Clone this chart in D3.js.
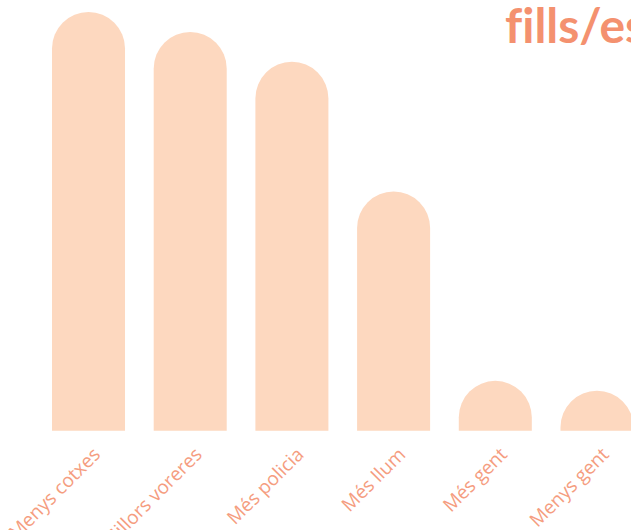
<!DOCTYPE html>
<html>
<head>
<meta charset="utf-8">
<script src="https://cdn.jsdelivr.net/npm/d3@7"></script>
<style>
  html, body { margin: 0; padding: 0; background: #fff; }
  svg { display: block; }
</style>
</head>
<body>
<div id="chart"></div>
<script>
// Respostes: què faria que els fills/es anessin sols a l'escola
const categories = ["Menys cotxes", "Millors voreres", "Més policia", "Més llum", "Més gent", "Menys gent"];
const values = [42, 40, 37, 24, 5, 4];
const title = "fills/es";

const width = 631, height = 530;
const barColor = "#fdd8bf";
const textColor = "#f4916f";
const labelColor = "#f59d80";

const svg = d3.select("#chart").append("svg")
  .attr("width", width)
  .attr("height", height);

const x = d3.scaleBand()
  .domain(categories)
  .range([52, 633.5])
  .paddingInner(0.282)
  .paddingOuter(0);

const y = d3.scaleLinear()
  .domain([0, 42])
  .range([430.7, 12]);

// bar with a semicircular top
function roundedBar(x0, w, yTop, yBase) {
  const r = w / 2;
  const p = d3.path();
  p.moveTo(x0, yBase);
  p.lineTo(x0, yTop + r);
  p.arc(x0 + r, yTop + r, r, Math.PI, 0);
  p.lineTo(x0 + w, yBase);
  p.closePath();
  return p.toString();
}

svg.append("g")
  .selectAll("path")
  .data(categories)
  .join("path")
  .attr("d", (c, i) => roundedBar(x(c), x.bandwidth(), y(values[i]), y(0)))
  .attr("fill", barColor);

// category labels
const axis = d3.axisBottom(x).tickSize(0).tickPadding(0);
const gx = svg.append("g")
  .attr("transform", `translate(0,${y(0)})`)
  .call(axis);
gx.select(".domain").remove();
gx.selectAll("text")
  .attr("fill", labelColor)
  .attr("font-family", "'Open Sans', sans-serif")
  .attr("font-size", 19)
  .attr("font-weight", 400)
  .attr("text-anchor", "end")
  .attr("dy", 0)
  .attr("transform", "translate(13,25) rotate(-45)");

svg.append("text")
  .attr("x", 505)
  .attr("y", 43)
  .attr("fill", textColor)
  .attr("font-family", "Lato, sans-serif")
  .attr("font-weight", 700)
  .attr("font-size", 48)
  .style("font-variant-ligatures", "none")
  .style("font-feature-settings", "'liga' 0")
  .text(title);
</script>
</body>
</html>
